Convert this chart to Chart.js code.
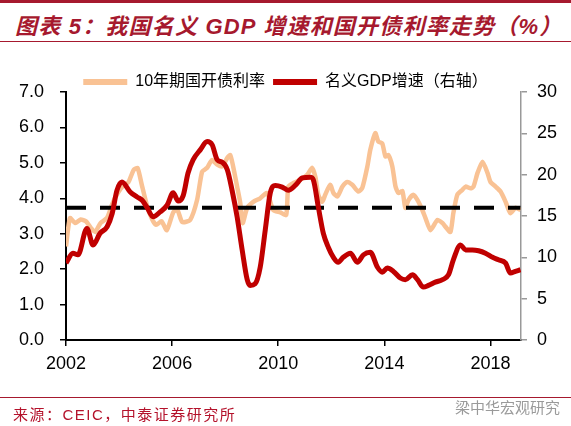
<!DOCTYPE html>
<html>
<head>
<meta charset="utf-8">
<script src="https://cdn.jsdelivr.net/npm/chart.js@4.4.1/dist/chart.umd.min.js"></script>
<style>
  html, body { margin: 0; padding: 0; background: #fff; }
  #page { position: relative; width: 571px; height: 426px; overflow: hidden;
          font-family: "Liberation Sans", "Noto Sans CJK SC", sans-serif; }
  .rule { position: absolute; left: 0; width: 571px; background: #A6192E; }
  #title { position: absolute; left: 15px; top: 8px; font-size: 22px; font-weight: bold; letter-spacing: 1.2px;
           font-style: italic; color: #A6192E; white-space: nowrap; }
  #chartBox { position: absolute; left: 0; top: 0; width: 571px; height: 426px; }
  #source { position: absolute; left: 13px; top: 403px; font-size: 15px; letter-spacing: 1.5px; color: #B4122B; white-space: nowrap; }
  #mark { position: absolute; left: 455px; top: 396px; font-size: 15px; color: #9a9a9a; white-space: nowrap; }
</style>
</head>
<body>
<div id="page">
  <div class="rule" style="top:0;height:3px"></div>
  <div id="title">图表 5：我国名义 GDP 增速和国开债利率走势（%）</div>
  <div class="rule" style="top:41px;height:1px"></div>
  <div id="chartBox"><canvas id="chart" width="571" height="426"></canvas></div>
  <div class="rule" style="top:397px;height:1px"></div>
  <div id="source">来源：CEIC，中泰证券研究所</div>
  <div id="mark">梁中华宏观研究</div>
</div>
<script>
// tick years on the x axis
const tickYears = [2002, 2006, 2010, 2014, 2018];

// 10年期国开债利率 (left axis, %)
const bondDates = [2002.00, 2002.15, 2002.35, 2002.55, 2002.75, 2002.95, 2003.10, 2003.30, 2003.55, 2003.75,
    2003.95, 2004.15, 2004.35, 2004.55, 2004.70, 2004.85, 2005.05, 2005.25, 2005.40, 2005.60,
    2005.80, 2006.04, 2006.20, 2006.38, 2006.68, 2006.94, 2007.13, 2007.32, 2007.50, 2007.70,
    2007.89, 2008.08, 2008.19, 2008.30, 2008.45, 2008.57, 2008.66, 2008.83, 2009.06, 2009.32,
    2009.58, 2009.81, 2010.08, 2010.30, 2010.38, 2010.57, 2010.83, 2011.09, 2011.28, 2011.40,
    2011.51, 2011.66, 2011.77, 2011.96, 2012.08, 2012.23, 2012.42, 2012.60, 2012.79, 2013.02,
    2013.17, 2013.36, 2013.47, 2013.66, 2013.77, 2013.92, 2014.04, 2014.15, 2014.30, 2014.42,
    2014.53, 2014.68, 2014.79, 2014.91, 2015.09, 2015.25, 2015.43, 2015.55, 2015.74, 2016.00,
    2016.19, 2016.30, 2016.49, 2016.60, 2016.75, 2016.94, 2017.06, 2017.25, 2017.36, 2017.51,
    2017.70, 2017.89, 2018.00, 2018.19, 2018.38, 2018.57, 2018.75, 2018.94, 2019.13];
const bondYield = [2.64, 3.44, 3.30, 3.40, 3.35, 3.15, 3.05, 3.30, 3.45, 3.85,
    4.15, 4.35, 4.45, 4.80, 4.85, 4.40, 3.80, 3.40, 3.25, 3.35,
    3.10, 3.60, 3.67, 3.33, 3.39, 3.95, 4.75, 4.86, 5.08, 4.95,
    4.90, 5.14, 5.22, 4.90, 4.33, 3.86, 3.30, 3.73, 3.90, 4.00,
    4.15, 3.67, 3.60, 3.53, 4.33, 4.43, 4.52, 4.66, 4.86, 4.60,
    4.10, 3.90, 4.10, 4.38, 4.15, 4.05, 4.33, 4.46, 4.38, 4.19,
    4.30, 4.90, 5.37, 5.84, 5.60, 5.55, 5.18, 5.22, 4.90, 4.33,
    4.15, 4.20, 3.73, 3.95, 4.10, 3.95, 3.67, 3.44, 3.10, 3.39,
    3.30, 3.20, 3.05, 3.58, 4.10, 4.24, 4.33, 4.28, 4.33, 4.71,
    5.03, 4.71, 4.46, 4.33, 4.19, 3.90, 3.58, 3.73, 3.67];

// 名义GDP增速 (right axis, %)
const gdpDates = [2002.00, 2002.26, 2002.45, 2002.79, 2003.02, 2003.28, 2003.55, 2003.74, 2003.92, 2004.11,
    2004.42, 2004.68, 2004.87, 2005.06, 2005.28, 2005.55, 2005.81, 2006.04, 2006.23, 2006.42,
    2006.60, 2006.79, 2007.06, 2007.32, 2007.51, 2007.70, 2007.89, 2008.08, 2008.26, 2008.45,
    2008.64, 2008.83, 2008.94, 2009.13, 2009.32, 2009.51, 2009.70, 2009.89, 2010.15, 2010.38,
    2010.64, 2010.91, 2011.21, 2011.32, 2011.51, 2011.70, 2011.89, 2012.08, 2012.26, 2012.45,
    2012.72, 2012.98, 2013.21, 2013.47, 2013.74, 2013.92, 2014.11, 2014.34, 2014.60, 2014.79,
    2015.06, 2015.25, 2015.47, 2015.66, 2015.92, 2016.19, 2016.42, 2016.60, 2016.87, 2017.06,
    2017.32, 2017.55, 2017.81, 2018.08, 2018.30, 2018.57, 2018.75, 2018.94, 2019.13];
const gdpGrowth = [9.3, 10.5, 10.3, 13.5, 11.5, 12.9, 13.7, 15.3, 18.1, 19.1,
    17.9, 17.3, 16.9, 16.0, 14.9, 15.5, 16.3, 17.8, 16.8, 17.5,
    20.2, 21.8, 23.0, 24.0, 23.6, 21.8, 21.5, 20.6, 18.1, 14.9,
    10.9, 7.3, 6.6, 6.8, 8.8, 13.3, 17.8, 18.7, 18.5, 18.1,
    18.7, 19.6, 19.7, 19.4, 16.1, 12.9, 11.2, 10.0, 9.4, 10.0,
    10.5, 9.4, 10.3, 10.6, 8.8, 8.2, 8.7, 8.3, 7.5, 7.3,
    7.9, 7.3, 6.4, 6.6, 7.0, 7.3, 7.9, 9.7, 11.5, 10.9,
    10.9, 10.8, 10.5, 10.0, 9.7, 9.3, 8.1, 8.3, 8.5];

// average bond yield (dashed reference line, left axis)
const bondAverage = 3.73;

Chart.defaults.font.family = "'Liberation Sans', 'Noto Sans CJK SC', sans-serif";

const ORANGE = 'rgb(249, 194, 148)';
const RED = 'rgb(192, 0, 0)';

const toPoints = (xs, ys) => xs.map((x, i) => ({ x: x, y: ys[i] }));

new Chart(document.getElementById('chart').getContext('2d'), {
    type: 'line',
    data: {
        datasets: [
            {
                label: '10年期国开债利率',
                data: toPoints(bondDates, bondYield),
                borderColor: ORANGE,
                backgroundColor: ORANGE,
                borderWidth: 4.5,
                pointRadius: 0,
                tension: 0.2,
                yAxisID: 'y',
                order: 3
            },
            {
                label: '名义GDP增速（右轴）',
                data: toPoints(gdpDates, gdpGrowth),
                borderColor: RED,
                backgroundColor: RED,
                borderWidth: 5,
                pointRadius: 0,
                cubicInterpolationMode: 'monotone',
                yAxisID: 'y1',
                order: 1
            },
            {
                label: 'avg',
                data: [
                    { x: bondDates[0], y: bondAverage },
                    { x: bondDates[bondDates.length - 1], y: bondAverage }
                ],
                borderColor: '#000',
                borderWidth: 4,
                borderDash: [20, 14],
                pointRadius: 0,
                yAxisID: 'y',
                order: 2
            }
        ]
    },
    options: {
        responsive: false,
        animation: false,
        layout: { padding: { top: 66, bottom: 46, left: 0, right: 0 } },
        plugins: {
            tooltip: { enabled: false },
            legend: {
                position: 'top',
                maxHeight: 26,
                labels: {
                    color: '#000',
                    font: { size: 16 },
                    boxWidth: 44,
                    boxHeight: 6,
                    padding: 8,
                    sort: (a, b) => a.datasetIndex - b.datasetIndex,
                    generateLabels: chart => Chart.defaults.plugins.legend.labels.generateLabels(chart)
                        .filter(l => l.datasetIndex < 2)
                        .map(l => Object.assign(l, { lineWidth: 0 }))
                }
            }
        },
        scales: {
            x: {
                type: 'linear',
                min: 2002,
                max: 2019.15,
                afterBuildTicks: s => { s.ticks = tickYears.map(v => ({ value: v })); },
                afterFit: s => { s.height = 40; },
                border: { color: '#000', width: 2 },
                grid: { drawOnChartArea: false, drawTicks: true, tickLength: 6, color: '#000', lineWidth: 1.5 },
                ticks: { color: '#000', font: { size: 18 }, padding: 7, maxRotation: 0, autoSkip: false,
                         callback: v => String(v) }
            },
            y: {
                position: 'left',
                min: 0,
                max: 7,
                afterFit: s => { s.width = 66; },
                border: { color: '#000', width: 2 },
                grid: { drawOnChartArea: false, drawTicks: true, tickLength: 6, color: '#000', lineWidth: 1.5 },
                ticks: { stepSize: 1, color: '#000', font: { size: 18 }, padding: 16,
                         callback: v => v.toFixed(1) }
            },
            y1: {
                position: 'right',
                min: 0,
                max: 30,
                afterFit: s => { s.width = 50; },
                border: { color: '#999', width: 1.5 },
                grid: { drawOnChartArea: false, drawTicks: true, tickLength: 6, color: '#999', lineWidth: 1.5 },
                ticks: { stepSize: 5, color: '#000', font: { size: 18 }, padding: 10 }
            }
        }
    }
});
</script>
</body>
</html>
